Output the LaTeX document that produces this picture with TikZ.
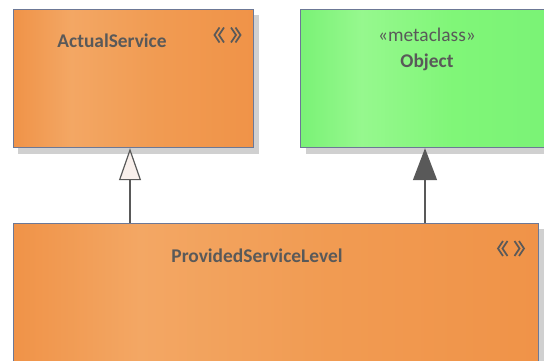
\documentclass[tikz,border=0pt]{standalone}
\usepackage{fontspec}
\setmainfont{Carlito}
\usetikzlibrary{arrows.meta}
\definecolor{txt}{RGB}{89,89,89}
\definecolor{bord}{RGB}{108,120,150}
\definecolor{shad}{RGB}{208,208,208}
\definecolor{o1}{RGB}{240,147,72}
\definecolor{o2}{RGB}{243,167,100}
\definecolor{o3}{RGB}{241,155,82}
\definecolor{g1}{RGB}{122,242,118}
\definecolor{g2}{RGB}{150,248,142}
\definecolor{g3}{RGB}{128,246,120}
\definecolor{tipfill}{RGB}{249,240,236}
\pgfdeclarehorizontalshading{orangesh}{100bp}{color(0bp)=(o1); color(25bp)=(o1); color(37bp)=(o2); color(55bp)=(o3); color(75bp)=(o1); color(100bp)=(o1)}
\pgfdeclarehorizontalshading{greensh}{100bp}{color(0bp)=(g1); color(25bp)=(g1); color(37bp)=(g2); color(55bp)=(g3); color(75bp)=(g1); color(100bp)=(g1)}
\tikzset{
  box/.style={draw=bord, line width=1.2pt, rectangle, inner sep=0pt, anchor=north west},
  orangebox/.style={box, shading=orangesh},
  greenbox/.style={box, shading=greensh},
  lbl/.style={text=txt, font=\fontsize{19.4}{23}\selectfont, inner sep=0pt},
  blbl/.style={lbl, font=\fontsize{19.4}{23}\selectfont\bfseries},
  conn/.style={draw=txt, line width=1.5pt},
  gen/.style={conn, -{Triangle[open, width=22pt, length=32pt, line width=1.2pt, fill=tipfill]}},
  assoc/.style={conn, -{Triangle[width=24pt, length=32pt, fill=txt]}},
  stereo/.pic={
    \begin{scope}[draw=txt, line width=1.7pt]
      \draw (-8,-7.5) -- (-13,0) -- (-8,7.5);
      \draw (-3.5,-7.5) -- (-8.5,0) -- (-3.5,7.5);
      \draw (8,-7.5) -- (13,0) -- (8,7.5);
      \draw (3.5,-7.5) -- (8.5,0) -- (3.5,7.5);
    \end{scope}
  }
}
\begin{document}
\begin{tikzpicture}[x=1pt, y=-1pt]
\useasboundingbox (0,0) rectangle (544,361);
\clip (0,0) rectangle (544,361);
% shadows
\fill[shad] (18,15) rectangle (259,154);
\fill[shad] (306,15) rectangle (560,154);
\fill[shad] (19,229) rectangle (544,370);
% boxes
\node[orangebox, minimum width=240pt, minimum height=138pt] (as) at (13,9) {};
\node[greenbox, minimum width=254pt, minimum height=138pt] (obj) at (300,9) {};
\node[orangebox, minimum width=525pt, minimum height=150pt] (psl) at (13,223) {};
% labels
\node[blbl] (ast) at (112,41) {ActualService};
\node[lbl] (objst) at (427,35) {«metaclass»};
\node[blbl] (objt) at (427,62) {Object};
\node[blbl] (pslt) at (257,256) {ProvidedServiceLevel};
% stereotype icons
\pic at (227.5,35) {stereo};
\pic at (511,248.5) {stereo};
% connectors
\coordinate (c1) at (130,0);
\coordinate (c2) at (425,0);
\draw[gen] (psl.north -| c1) -- (as.south -| c1);
\draw[assoc] (psl.north -| c2) -- (obj.south -| c2);
\end{tikzpicture}
\end{document}
